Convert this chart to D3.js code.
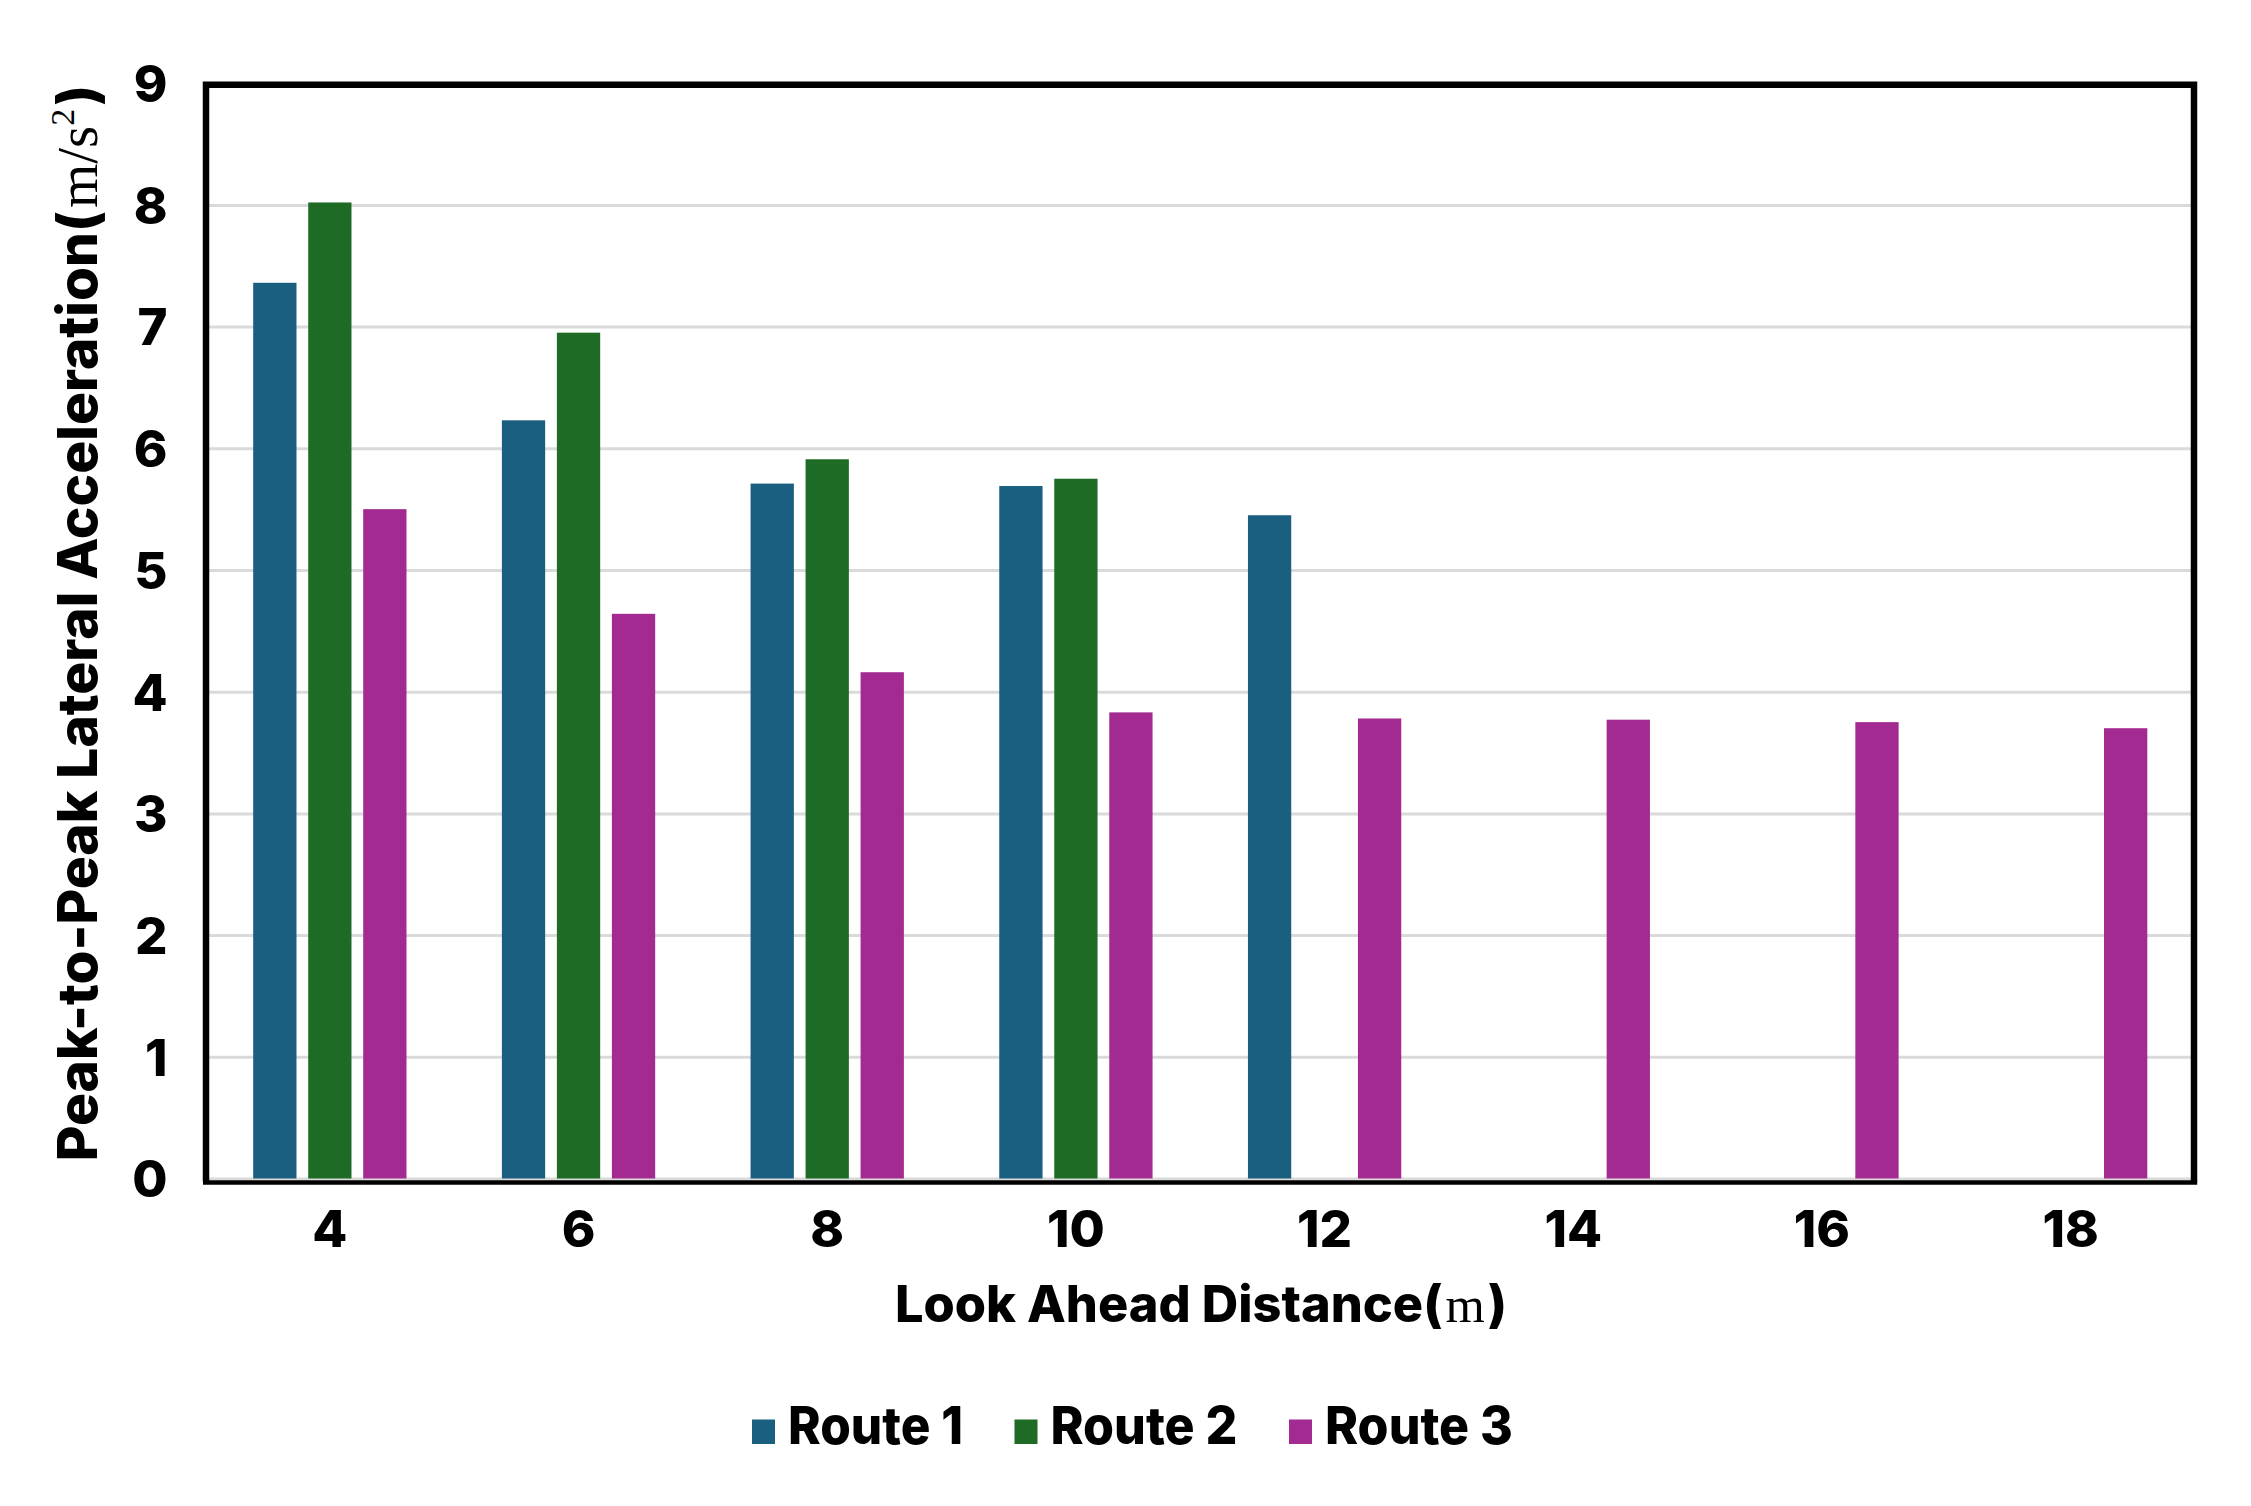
<!DOCTYPE html>
<html>
<head>
<meta charset="utf-8">
<script src="https://cdn.jsdelivr.net/npm/d3@7"></script>
<style>
  html, body { margin: 0; padding: 0; background: #ffffff; }
  svg { display: block; }
</style>
</head>
<body>
<svg id="chart" width="2251" height="1506"></svg>
<script>
// ---- data ----
const categories = ["4", "6", "8", "10", "12", "14", "16", "18"];
const seriesNames = ["Route 1", "Route 2", "Route 3"];
const route1 = [7.36, 6.23, 5.71, 5.69, 5.45, null, null, null];
const route2 = [8.02, 6.95, 5.91, 5.75, null, null, null, null];
const route3 = [5.50, 4.64, 4.16, 3.83, 3.78, 3.77, 3.75, 3.70];
const yTicks = [0, 1, 2, 3, 4, 5, 6, 7, 8, 9];
const colors = ["#1a5e80", "#1d6b25", "#a22a90"];
const seriesValues = [route1, route2, route3];

// ---- layout ----
const W = 2251, H = 1506;
const plot = { left: 205.5, right: 2195, top: 83.2, bottom: 1178.5 };
const sansFont = "Inter, 'Noto Sans', sans-serif";
const serifFont = "'Liberation Serif', 'DejaVu Serif', serif";

const svg = d3.select("#chart");
svg.append("rect").attr("width", W).attr("height", H).attr("fill", "#ffffff");

const x = d3.scaleBand().domain(categories).range([plot.left, plot.right]).paddingInner(0).paddingOuter(0);
const xSub = d3.scaleBand().domain(seriesNames).range([0, x.bandwidth()]).paddingInner(0.213).paddingOuter(0.867);
const y = d3.scaleLinear().domain([0, 9]).range([plot.bottom, plot.top]);
const color = d3.scaleOrdinal().domain(seriesNames).range(colors);

// gridlines
const yAxisGrid = d3.axisLeft(y).tickValues(yTicks).tickSize(-(plot.right - plot.left)).tickFormat("");
const grid = svg.append("g").attr("transform", `translate(${plot.left},0)`).call(yAxisGrid);
grid.select(".domain").remove();
grid.selectAll(".tick line").attr("stroke", "#dadada").attr("stroke-width", 3);

// bars
const rows = [];
categories.forEach((c, i) => {
  seriesNames.forEach((s, j) => {
    const v = seriesValues[j][i];
    if (v !== null && v !== undefined) rows.push({ cat: c, series: s, value: v });
  });
});
svg.append("g").selectAll("rect").data(rows).join("rect")
  .attr("x", d => x(d.cat) + xSub(d.series))
  .attr("width", xSub.bandwidth())
  .attr("y", d => y(d.value))
  .attr("height", d => y(0) - y(d.value))
  .attr("fill", d => color(d.series));

// frame
svg.append("path")
  .attr("d", `M${plot.left + 0.5},${plot.bottom + 3} L${plot.left + 0.5},${plot.top + 1.5} L${plot.right - 1},${plot.top + 1.5} L${plot.right - 1},${plot.bottom + 3}`)
  .attr("fill", "none").attr("stroke", "#000").attr("stroke-width", 6.5).attr("stroke-linejoin", "miter");
svg.append("line")
  .attr("x1", plot.left - 2.5).attr("x2", plot.right + 2.2)
  .attr("y1", plot.bottom + 4).attr("y2", plot.bottom + 4)
  .attr("stroke", "#000").attr("stroke-width", 4.5);

// y axis tick labels
const yAxis = d3.axisLeft(y).tickValues(yTicks).tickSize(0).tickPadding(0).tickFormat(d3.format("d"));
const gy = svg.append("g").attr("transform", `translate(${plot.left - 38},0)`).call(yAxis);
gy.select(".domain").remove();
gy.selectAll("text")
  .attr("font-family", sansFont).attr("font-weight", 800).attr("font-size", 51)
  .attr("fill", "#000").attr("dy", "0.36em");

// x axis tick labels
const xAxis = d3.axisBottom(x).tickSize(0).tickPadding(0);
const gx = svg.append("g").attr("transform", `translate(0,1247)`).call(xAxis);
gx.select(".domain").remove();
gx.selectAll("text")
  .attr("font-family", sansFont).attr("font-weight", 800).attr("font-size", 51)
  .attr("fill", "#000").attr("dy", 0).attr("y", 0);

// x axis title
const xt = svg.append("text")
  .attr("x", 1201).attr("y", 1322)
  .attr("text-anchor", "middle")
  .attr("font-family", sansFont).attr("font-weight", 800).attr("font-size", 50.5).attr("fill", "#000");
xt.append("tspan").text("Look Ahead Distance(");
xt.append("tspan").attr("dx", 3).attr("font-family", serifFont).attr("font-weight", 400).text("m");
xt.append("tspan").attr("dx", 3).text(")");

// y axis title
const yt = svg.append("text")
  .attr("transform", `translate(97,${(86 + 1160) / 2}) rotate(-90)`)
  .attr("text-anchor", "middle")
  .attr("font-family", sansFont).attr("font-weight", 800).attr("font-size", 55).attr("fill", "#000");
yt.append("tspan").text("Peak-to-Peak Lateral Acceleration(");
yt.append("tspan").attr("dx", 3).attr("font-family", serifFont).attr("font-weight", 400).attr("font-size", 57).text("m/s");
yt.append("tspan").attr("font-family", serifFont).attr("font-weight", 400).attr("font-size", 34).attr("dy", -23).text("2");
yt.append("tspan").attr("dx", 3).attr("dy", 23).text(")");

// legend
const legendWidths = [175, 187, 188];
let lx = 752;
const legend = svg.append("g");
seriesNames.forEach((s, i) => {
  legend.append("rect").attr("x", lx).attr("y", 1419.5).attr("width", 23).attr("height", 24.5).attr("fill", colors[i]);
  legend.append("text").attr("x", lx + 36).attr("y", 1444)
    .attr("font-family", sansFont).attr("font-weight", 800).attr("font-size", 52).attr("fill", "#000")
    .attr("textLength", legendWidths[i]).attr("lengthAdjust", "spacingAndGlyphs")
    .text(s);
  lx += 36 + legendWidths[i] + 51.5;
});
</script>
</body>
</html>
